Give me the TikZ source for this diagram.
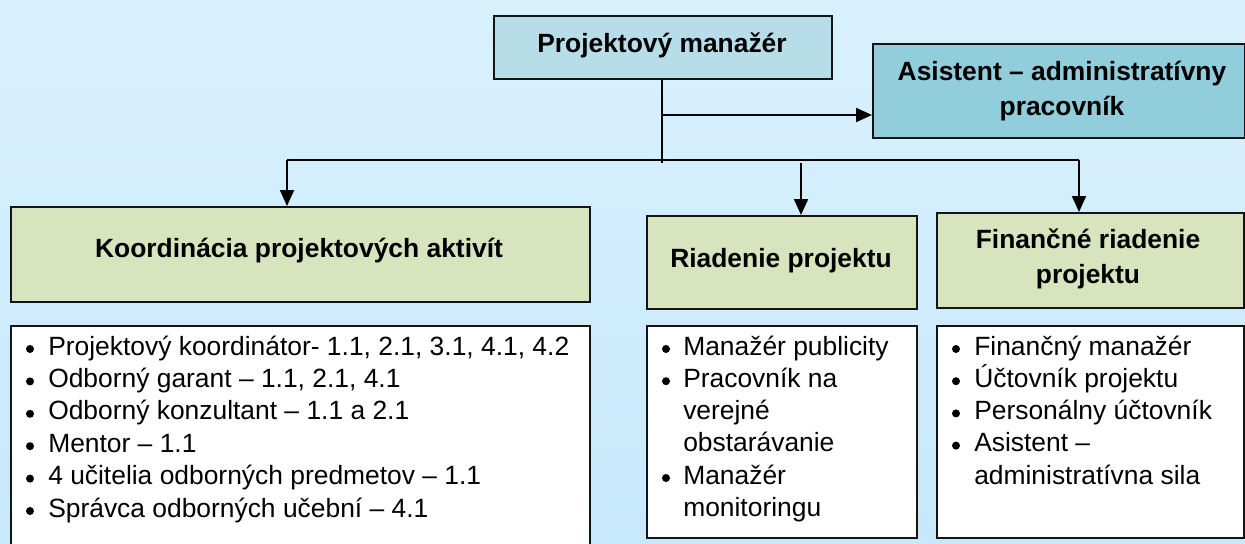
\documentclass[tikz,border=0pt]{standalone}
\usepackage{fontspec}
\setmainfont{Liberation Sans}
\usetikzlibrary{arrows.meta}
\definecolor{bgtop}{RGB}{217,241,254}
\definecolor{bgbot}{RGB}{200,232,252}
\definecolor{pmfill}{RGB}{183,221,232}
\definecolor{asfill}{RGB}{146,205,220}
\definecolor{grfill}{RGB}{215,228,189}
\definecolor{edge}{RGB}{20,20,20}
\begin{document}
\begin{tikzpicture}[x=0.75pt,y=-0.75pt,
  box/.style={draw=edge, line width=1.5pt, inner sep=0pt, anchor=north west},
  ttl/.style={anchor=base, inner sep=0pt, font=\fontsize{19.8}{24}\selectfont\bfseries},
  txt/.style={anchor=base west, inner sep=0pt, font=\fontsize{19.8}{24}\selectfont},
  conn/.style={draw=black, line width=1.5pt},
  arr/.style={conn, -{Triangle[length=12pt,width=10.5pt]}},
  bul/.style={fill=black}
]
\useasboundingbox (0,0) rectangle (1245,543);
\shade[top color=bgtop, bottom color=bgbot] (0,0) rectangle (1245,543);

% boxes
\node[box, fill=pmfill, minimum width=338*0.75pt, minimum height=63*0.75pt] (pm) at (493,15) {};
\node[box, fill=asfill, minimum width=372*0.75pt, minimum height=94*0.75pt] (as) at (872,43) {};
\node[box, fill=grfill, minimum width=579*0.75pt, minimum height=95*0.75pt] (ko) at (10,206) {};
\node[box, fill=grfill, minimum width=270*0.75pt, minimum height=93*0.75pt] (ri) at (646,215) {};
\node[box, fill=grfill, minimum width=307*0.75pt, minimum height=95*0.75pt] (fi) at (936,212) {};
\node[box, fill=white, minimum width=579*0.75pt, minimum height=225*0.75pt] (tk) at (10,325) {};
\node[box, fill=white, minimum width=270*0.75pt, minimum height=212*0.75pt] (tr) at (646,325) {};
\node[box, fill=white, minimum width=307*0.75pt, minimum height=212*0.75pt] (tf) at (936,325) {};

% titles
\node[ttl] (pmt) at (662,52) {Projektový manažér};
\node[ttl] (ast1) at (1062,80) {Asistent – administratívny};
\node[ttl] (ast2) at (1062,115) {pracovník};
\node[ttl] (kot) at (299,257) {Koordinácia projektových aktivít};
\node[ttl] (rit) at (781,267) {Riadenie projektu};
\node[ttl] (fit1) at (1088,248) {Finančné riadenie};
\node[ttl] (fit2) at (1088,283) {projektu};

% connectors
\coordinate (j1) at (662,163);
\coordinate (b1) at (662,115);
\coordinate (hl) at (287,160);
\coordinate (hr) at (1079,160);
\coordinate (hm) at (801,163);
\draw[conn] (pm.south -| j1) -- (j1);
\draw[arr] (b1) -- (b1 -| as.west);
\draw[conn] (hl) -- (hr);
\draw[arr] (hl) -- (hl |- ko.north);
\draw[arr] (hm) -- (hm |- ri.north);
\draw[arr] (hr) -- (hr |- fi.north);

% list 1
\foreach \y in {355,387.4,419.8,452.2,484.6,517} \fill[bul] (30,\y-6) circle (3pt);
\node[txt] (k1) at (48,355) {Projektový koordinátor- 1.1, 2.1, 3.1, 4.1, 4.2};
\node[txt] (k2) at (48,387.4) {Odborný garant – 1.1, 2.1, 4.1};
\node[txt] (k3) at (48,419.8) {Odborný konzultant – 1.1 a 2.1};
\node[txt] (k4) at (48,452.2) {Mentor – 1.1};
\node[txt] (k5) at (48,484.6) {4 učitelia odborných predmetov – 1.1};
\node[txt] (k6) at (48,517) {Správca odborných učební – 4.1};

% list 2
\foreach \y in {355,387.2,484} \fill[bul] (666,\y-6) circle (3pt);
\node[txt] (r1) at (683,355) {Manažér publicity};
\node[txt] (r2) at (683,387.2) {Pracovník na};
\node[txt] (r3) at (683,419.4) {verejné};
\node[txt] (r4) at (683,451.6) {obstarávanie};
\node[txt] (r5) at (683,484) {Manažér};
\node[txt] (r6) at (683,516.2) {monitoringu};

% list 3
\foreach \y in {355,387.2,419.4,451.6} \fill[bul] (956,\y-6) circle (3pt);
\node[txt] (f1) at (974,355) {Finančný manažér};
\node[txt] (f2) at (974,387.2) {Účtovník projektu};
\node[txt] (f3) at (974,419.4) {Personálny účtovník};
\node[txt] (f4) at (974,451.6) {Asistent –};
\node[txt] (f5) at (974,484) {administratívna sila};
\end{tikzpicture}
\end{document}
